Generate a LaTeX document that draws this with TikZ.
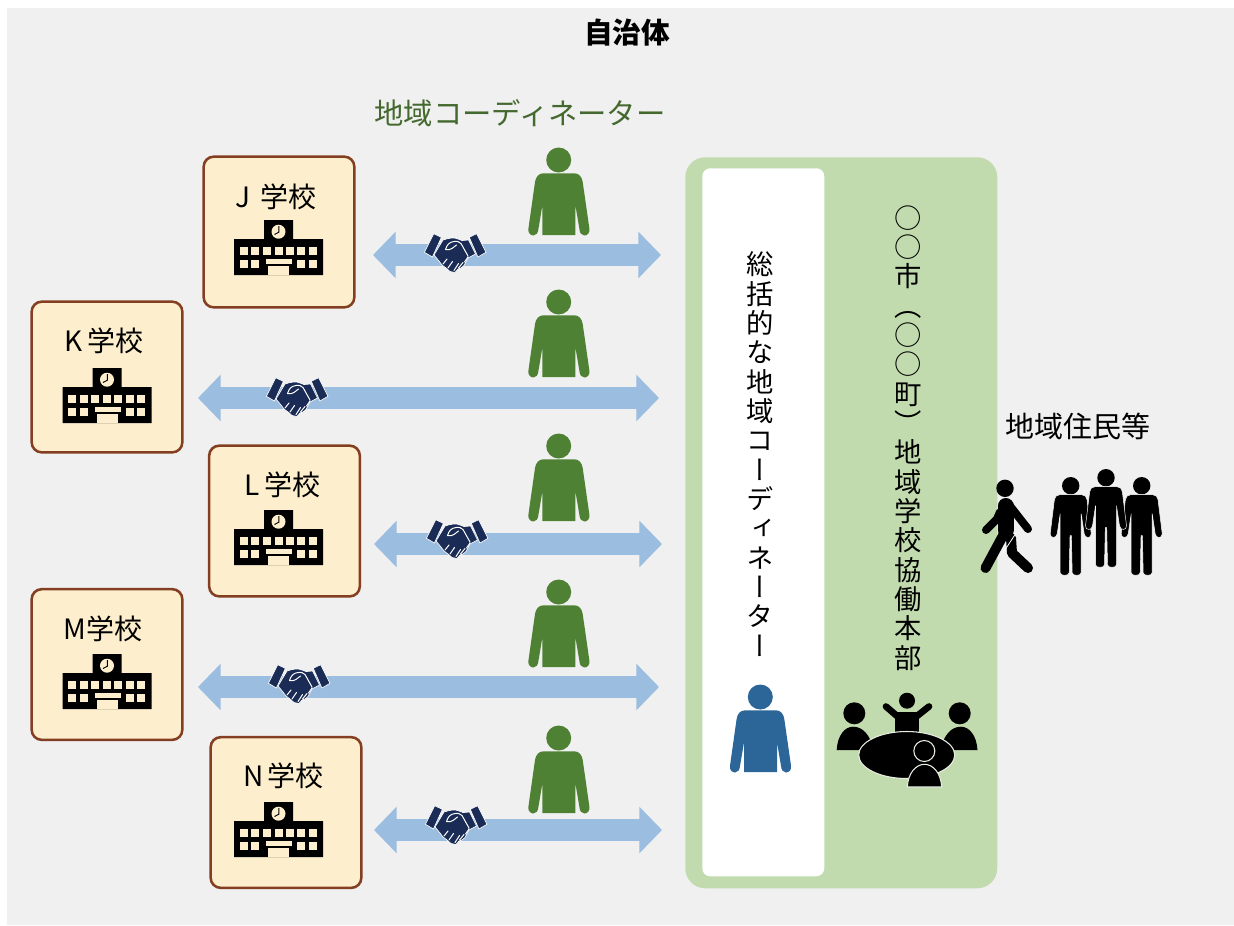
\documentclass[tikz,border=0pt]{standalone}
\usepackage{fontspec}
\usetikzlibrary{arrows.meta}
\setmainfont{Noto Sans CJK JP}
\newfontfamily\vjp[RawFeature=+vert]{Noto Sans CJK JP}
\definecolor{panelgrey}{HTML}{F0F0F0}
\definecolor{panelgreen}{HTML}{C1DBAE}
\definecolor{boxfill}{HTML}{FDEFCD}
\definecolor{boxline}{HTML}{843F22}
\definecolor{arrowblue}{HTML}{9BBDDF}
\definecolor{persongreen}{HTML}{4F8135}
\definecolor{personblue}{HTML}{2C6699}
\definecolor{shakenavy}{HTML}{1A2C56}
\definecolor{titlegreen}{HTML}{44692F}
\definecolor{halo}{HTML}{E8EFE2}
\tikzset{
  x=0.75pt,y=-0.75pt,
  schoolbox/.style={draw=boxline,fill=boxfill,line width=1.9pt,rounded corners=7.5pt,minimum width=113pt,minimum height=113pt,inner sep=0pt},
  label21/.style={font=\fontsize{21}{24}\selectfont,inner sep=0pt,text=black},
  vstack/.style={align=center,inner sep=0pt,font=\vjp\fontsize{20.5}{22}\selectfont},
  link/.style={arrowblue,line width=17pt,{Triangle[length=17pt,width=34pt]}-{Triangle[length=17pt,width=34pt]}},
  personshape/.pic={
    \fill (0,0) circle (12.5);
    \fill (-15.3,13.3) .. controls (-20,13.3) and (-23,17) .. (-23.7,22)
      -- (-30.3,68.7) .. controls (-31,73) and (-28,75.5) .. (-25.3,75.5)
      .. controls (-22.5,75.5) and (-20.7,73) .. (-20.3,69)
      -- (-16.3,45.3) -- (-16.3,75) -- (16.7,75) -- (16.7,45.3)
      -- (20.7,69) .. controls (21,73) and (23,75.5) .. (25.7,75.5)
      .. controls (28.5,75.5) and (31.3,73) .. (30.7,68.7)
      -- (24,22) .. controls (23.3,17) and (20.3,13.3) .. (15.7,13.3) -- cycle;
  },
  schoolicon/.pic={
    \fill[black] (-14.5,-28) rectangle (14.5,-9) (-44.5,-9) rectangle (44.5,27);
    \fill[boxfill] (0,-16.3) circle (7);
    \draw[black,line width=.7pt] (0.3,-22) -- (0.3,-15.8) -- (-4,-13.5);
    \foreach \wx in {-39,-27.3,-15.7,-4,7.2,18.5,30.2}
      \fill[boxfill] (\wx,-1) rectangle ++(8,8);
    \foreach \wx in {-39,-27.3,18.5,30.2}
      \fill[boxfill] (\wx,12) rectangle ++(8,8);
    \fill[boxfill] (-12.5,11) rectangle (13.5,15.5);
    \fill[boxfill] (-10.5,17.5) rectangle (10.5,27.3);
  },
  shake/.pic={
    \begin{scope}[draw=white,line width=.5pt,fill=shakenavy]
    \filldraw (-21.3,-19.3) -- (-13.6,-15.7) -- (-22.6,4) -- (-30.6,-.7) -- cycle;
    \filldraw (21.6,-19.3) -- (14.3,-15.7) -- (22.9,4) -- (31,-.7) -- cycle;
    \filldraw (-12,-13) .. controls (-6,-15) and (-1,-16) .. (3,-14)
      -- (7,-12.5) -- (13.5,-13) -- (20.5,1) -- (13,5) -- (9,12.5)
      -- (6,15) -- (3,16) -- (0,19.5) -- (-5,18.5) -- (-9,15) -- (-13,12) -- (-16,8)
      -- (-21,2) -- cycle;
    \end{scope}
    \draw[white,line width=.75pt,line join=round,line cap=round]
      (-9.5,-3.5) .. controls (-8,-8) and (-6,-11) .. (-1,-11.5)
      .. controls (3,-12) and (4,-11) .. (6,-9.5)
      -- (13,3)
      (1.5,-8) .. controls (-2,-6) and (-3,-2.5) .. (-9.5,-3.5)
      (-12,11) -- (-8,6) (-7,15) -- (-2.5,8.5) (-1,17.5) -- (3.5,10.5) (3.5,15) -- (8,9.5)
      (13,4) -- (9.5,9);
  },
  standing/.pic={
    \begin{scope}[draw=white,line width=.35pt,fill=black]
    \fill (0,0) circle (8.7);
    \filldraw (-11,9) .. controls (-14,9) and (-16,11) .. (-16.3,14)
      -- (-20.5,48) .. controls (-20.8,53) and (-14,53) .. (-13.5,48)
      -- (-10.5,28) -- (-10.5,87) .. controls (-10.5,90.5) and (-1.5,90.5) .. (-1.5,87)
      -- (-.7,50) -- (.7,50) -- (1.5,87) .. controls (1.5,90.5) and (10.5,90.5) .. (10.5,87)
      -- (10.5,28) -- (13.5,48) .. controls (14,53) and (20.8,53) .. (20.5,48)
      -- (16.3,14) .. controls (16,11) and (14,9) .. (11,9) -- cycle;
    \end{scope}
  },
}
\begin{document}
\begin{tikzpicture}
\useasboundingbox (0,0) rectangle (1234,925);
\fill[white] (0,0) rectangle (1234,925);
\node[fill=panelgrey,minimum width=920.25pt,minimum height=687.75pt,inner sep=0pt,anchor=north west] (city) at (7,8) {};
\node[label21,font=\bfseries\fontsize{21.5}{24}\selectfont] (cityname) at (627,33) {自治体};
\node[label21,text=titlegreen,font=\fontsize{22}{24}\selectfont] (coordtitle) at (520,113) {地域コーディネーター};

% green panel
\node[fill=panelgreen,rounded corners=15pt,minimum width=234pt,minimum height=548.25pt,inner sep=0pt,anchor=north west] (honbu) at (685,157) {};
\node[fill=white,rounded corners=6pt,minimum width=91.5pt,minimum height=531pt,inner sep=0pt,anchor=north west] (sokatsu) at (702,168) {};

% schools
\node[schoolbox] (J) at (279,232) {};
\node[schoolbox] (K) at (107,377) {};
\node[schoolbox] (L) at (284.5,521) {};
\node[schoolbox] (M) at (107,664.5) {};
\node[schoolbox] (N) at (286,812.5) {};

\node[label21] (Jt) at (276,197) {J\,\,学校};
\node[label21] (Kt) at (104,341) {K\,学校};
\node[label21] (Lt) at (282.5,485) {L\,学校};
\node[label21] (Mt) at (103,629) {M学校};
\node[label21] (Nt) at (283.5,776) {N\,学校};

\pic at (278.5,248) {schoolicon};
\pic at (107,396) {schoolicon};
\pic at (278.5,538) {schoolicon};
\pic at (107,682) {schoolicon};
\pic at (278.5,830) {schoolicon};

% link arrows
\coordinate (Ja) at (373,255);  \coordinate (Jb) at (661,255);
\coordinate (Ka) at (198,398);  \coordinate (Kb) at (659,398);
\coordinate (La) at (374,544);  \coordinate (Lb) at (662,544);
\coordinate (Ma) at (198,687);  \coordinate (Mb) at (659,687);
\coordinate (Na) at (374,830);  \coordinate (Nb) at (662,830);
\draw[link] (Ja) -- (Jb);
\draw[link] (Ka) -- (Kb);
\draw[link] (La) -- (Lb);
\draw[link] (Ma) -- (Mb);
\draw[link] (Na) -- (Nb);

\pic at (455,253) {shake};
\pic at (297,397) {shake};
\pic at (457,539) {shake};
\pic at (299,684) {shake};
\pic at (456,825) {shake};

\pic[persongreen] at (558.7,160) {personshape};
\pic[persongreen] at (558.7,302) {personshape};
\pic[persongreen] at (558.7,446) {personshape};
\pic[persongreen] at (558.7,592) {personshape};
\pic[persongreen] at (558.7,738) {personshape};
\pic[personblue] at (760.3,697) {personshape};

% vertical texts
\node[vstack] (soktext) at (760,454) {総\\括\\的\\な\\地\\域\\コ\\ー\\デ\\ィ\\ネ\\ー\\タ\\ー};
\node[vstack] (hontext) at (908,438) {○\\○\\市\\（\\○\\○\\町\\）\\地\\域\\学\\校\\協\\働\\本\\部};

% meeting icon
\fill (907,700.7) circle (8);
\fill (895,711.5) rectangle (919,733);
\draw[line width=5pt,line cap=round,line join=round] (897,716) -- (886,706.5);
\draw[line width=5pt,line cap=round,line join=round] (917,716) -- (929,706.5);
\fill (854.3,713.3) circle (11);
\fill (959.7,713.3) circle (11);
\fill (836.7,750) .. controls (837.5,735) and (845,726.7) .. (853,726.7) .. controls (863,726.7) and (870,735) .. (874,750) -- cycle;
\fill (977.5,750) .. controls (976.5,735) and (969,726.7) .. (961,726.7) .. controls (951,726.7) and (944,735) .. (940,750) -- cycle;
\filldraw[draw=halo,line width=.8pt,fill=black] (906.7,755) ellipse (48 and 23.5);
\filldraw[draw=halo,line width=.8pt,fill=black] (924.3,751) circle (10.5);
\filldraw[draw=halo,line width=.8pt,fill=black] (907.3,787) .. controls (908,773) and (916,764.3) .. (924.5,764.3) .. controls (933,764.3) and (941,773) .. (941.7,787) -- cycle;

% residents
\node[label21,font=\fontsize{21.75}{24}\selectfont] (jumin) at (1078,426) {地域住民等};
\fill (1005,488.3) circle (8.7);
\draw[line width=6pt,line cap=round,line join=round] (1010,506) -- (1028,529);
\draw[line width=6pt,line cap=round,line join=round] (1000,512) -- (997,519) -- (986,530);
\draw[line width=7.5pt,line cap=round,line join=round] (1011,538) -- (1012,553) -- (1028,568);
\draw[line width=.6pt,white] (1016,533) -- (1003,553);
\draw[line width=7.5pt,line cap=round,line join=round] (1006,530) -- (985.5,568);
\draw[line width=12pt,line cap=round] (1005.5,506) -- (1005.5,530);
\pic at (1141.7,485.7) {standing};
\pic at (1070.7,485.7) {standing};
\pic at (1106,477.7) {standing};
\end{tikzpicture}
\end{document}
